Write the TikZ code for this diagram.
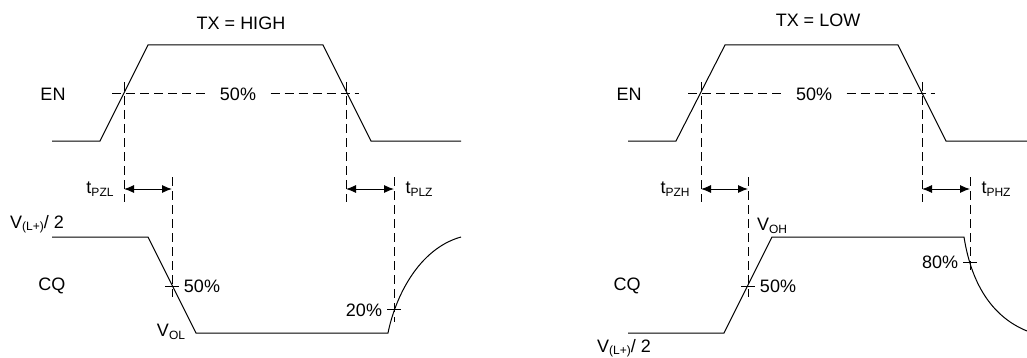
\documentclass[tikz,border=0pt]{standalone}
\usepackage{fontspec}
\setmainfont{Liberation Sans}
\usetikzlibrary{arrows.meta}
\newcommand{\lo}[1]{\raisebox{-0.25ex}{\fontsize{6}{7}\selectfont #1}}

\begin{document}
\begin{tikzpicture}[
  x=0.5pt, y=-0.5pt,
  line width=0.5pt,
  lbl/.style={inner sep=0pt, font=\fontsize{9}{10}\selectfont},
  guide/.style={dash pattern=on 4.5pt off 2.5pt},
  dim/.style={{Latex[length=5pt,width=4pt]}-{Latex[length=5pt,width=4pt]}},
]
  \useasboundingbox (0,0) rectangle (1027,358);

  % TX = HIGH
  \node[lbl] (txh) at (241,23) {TX = HIGH};
  \node[lbl] (enh) at (53,94) {EN};
  \node[lbl] (cqh) at (52,286) {CQ};
  \node[lbl] (vlh) at (37,224) {V\lo{(L+)}/ 2};
  \node[lbl] (vol) at (171,332) {V\lo{OL}};
  \node[lbl, inner xsep=7pt] (enh50) at (238,94) {50\%};
  \node[lbl] (cqh50) at (202,286) {50\%};
  \node[lbl] (cqh20) at (364,310) {20\%};
  \node[lbl] (pzl) at (100,189) {t\lo{PZL}};
  \node[lbl] (plz) at (419,189) {t\lo{PLZ}};
  \coordinate (enhL) at (112,94);
  \coordinate (enhR) at (359,94);
  \coordinate (pzlA) at (124,189);
  \coordinate (pzlB) at (172,189);
  \coordinate (plzA) at (346,189);
  \coordinate (plzB) at (394,189);

  \draw (52,141) -- (100,141) -- (148,45) -- (323,45) -- (371,141) -- (461,141);
  \draw (52,237) -- (148,237) -- (196,333) -- (388,333)
        .. controls (395,298) and (418,249) .. (461,237);
  \draw[guide] (enhL) -- (enh50.west) (enh50.east) -- (enhR);
  \draw[guide] (124,82) -- (124,202);
  \draw[guide] (346,82) -- (346,202);
  \draw[guide] (172,177) -- (172,297);
  \draw[guide] (394,177) -- (394,322);
  \draw (165,286) -- (179,286);
  \draw (387,309) -- (401,309);
  \draw[dim] (pzlA) -- (pzlB);
  \draw[dim] (plzA) -- (plzB);

  % TX = LOW
  \node[lbl] (txl) at (818,20) {TX = LOW};
  \node[lbl] (enl) at (629,94) {EN};
  \node[lbl] (cql) at (627,286) {CQ};
  \node[lbl] (vll) at (624,348) {V\lo{(L+)}/ 2};
  \node[lbl] (voh) at (772,226) {V\lo{OH}};
  \node[lbl, inner xsep=7pt] (enl50) at (814,94) {50\%};
  \node[lbl] (cql50) at (778,286) {50\%};
  \node[lbl] (cql80) at (940,262) {80\%};
  \node[lbl] (pzh) at (675,189) {t\lo{PZH}};
  \node[lbl] (phz) at (996,189) {t\lo{PHZ}};
  \coordinate (enlL) at (688,94);
  \coordinate (enlR) at (935,94);
  \coordinate (pzhA) at (701,189);
  \coordinate (pzhB) at (748,189);
  \coordinate (phzA) at (922,189);
  \coordinate (phzB) at (970,189);

  \draw (628,141) -- (676,141) -- (725,45) -- (898,45) -- (946,141) -- (1027,141);
  \draw (628,333) -- (724,333) -- (772,237) -- (964,237)
        .. controls (972,288) and (995,318) .. (1027,331);
  \draw[guide] (enlL) -- (enl50.west) (enl50.east) -- (enlR);
  \draw[guide] (701,82) -- (701,202);
  \draw[guide] (922,82) -- (922,202);
  \draw[guide] (748,177) -- (748,297);
  \draw[guide] (970,177) -- (970,273);
  \draw (741,286) -- (755,286);
  \draw (963,262) -- (977,262);
  \draw[dim] (pzhA) -- (pzhB);
  \draw[dim] (phzA) -- (phzB);
\end{tikzpicture}
\end{document}
